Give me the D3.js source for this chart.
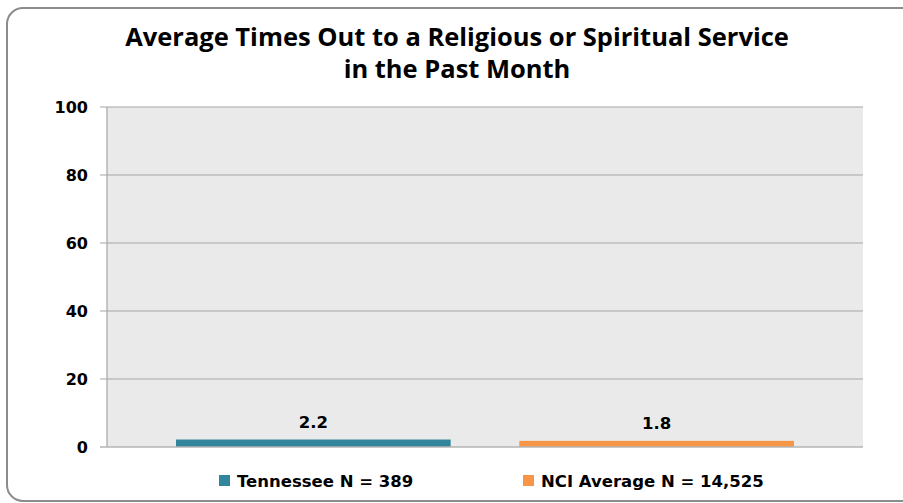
<!DOCTYPE html>
<html><head><meta charset="utf-8">
<script src="https://cdn.jsdelivr.net/npm/d3@7"></script>
<style>html,body{margin:0;padding:0;background:#fff;}svg{display:block;}</style>
</head><body>
<svg id="c" width="903" height="503"></svg>
<script>
const titleLines = ["Average Times Out to a Religious or Spiritual Service", "in the Past Month"];
const seriesNames = ["Tennessee N = 389", "NCI Average N = 14,525"];
const seriesValues = [2.2, 1.8];
const seriesLabels = ["2.2", "1.8"];
const seriesColors = ["#31859c", "#f79646"];
const yTicks = [0, 20, 40, 60, 80, 100];

const svg = d3.select("#c");
const m = {l: 107, r: 863, t: 107, b: 447};

svg.append("rect").attr("x", 7).attr("y", 8).attr("width", 910).attr("height", 493)
  .attr("rx", 16).attr("fill", "#fff").attr("stroke", "#8c8c8c").attr("stroke-width", 2);

const t = svg.append("text").attr("text-anchor", "middle").attr("font-family", "'Open Sans', Lato, sans-serif")
  .attr("font-weight", "bold").attr("font-size", 22).attr("fill", "#000");
const tsp = titleLines.map((s, i) => t.append("tspan").attr("x", 457).attr("y", 46 + i * 32).text(s));
const w0 = tsp[0].node().getComputedTextLength();
t.attr("font-size", 22 * 664 / w0);

const y = d3.scaleLinear().domain([0, 100]).range([m.b, m.t]);
const x = d3.scaleBand().domain(seriesNames).range([176, 794]).paddingInner(0.2);

svg.append("rect").attr("x", m.l).attr("y", m.t).attr("width", m.r - m.l).attr("height", m.b - m.t).attr("fill", "#eaeaea");

const g = svg.append("g");
g.selectAll("line.grid").data(yTicks.filter(d => d > 0)).join("line")
  .attr("x1", 100).attr("x2", m.r).attr("y1", d => y(d)).attr("y2", d => y(d))
  .attr("stroke", "#a6a6a6").attr("stroke-width", 1.2);
g.append("line").attr("x1", m.l).attr("x2", m.l).attr("y1", m.t).attr("y2", m.b).attr("stroke", "#a6a6a6").attr("stroke-width", 1.2);

svg.selectAll("rect.bar").data(seriesValues).join("rect").attr("class", "bar")
  .attr("x", (d, i) => x(seriesNames[i])).attr("width", x.bandwidth())
  .attr("y", d => y(d)).attr("height", d => y(0) - y(d))
  .attr("fill", (d, i) => seriesColors[i]);

svg.append("line").attr("x1", 100).attr("x2", m.r).attr("y1", y(0)).attr("y2", y(0)).attr("stroke", "#b4b4b4").attr("stroke-width", 1.5);

svg.selectAll("text.tick").data(yTicks).join("text").attr("class", "tick")
  .attr("x", 88).attr("y", d => y(d) + 6).attr("text-anchor", "end")
  .attr("font-family", "'DejaVu Sans', sans-serif").attr("font-weight", "bold").attr("font-size", 16).attr("fill", "#000")
  .text(d => d);

svg.selectAll("text.lbl").data(seriesValues).join("text").attr("class", "lbl")
  .attr("x", (d, i) => x(seriesNames[i]) + x.bandwidth() / 2).attr("y", d => y(d) - 12)
  .attr("text-anchor", "middle").attr("font-family", "'DejaVu Sans', sans-serif").attr("font-weight", "bold")
  .attr("font-size", 16.5).attr("fill", "#000").text((d, i) => seriesLabels[i]);

const legX = [219, 523];
seriesNames.forEach((n, i) => {
  svg.append("rect").attr("x", legX[i]).attr("y", 475).attr("width", 11).attr("height", 11).attr("fill", seriesColors[i]);
  svg.append("text").attr("x", legX[i] + 18).attr("y", 487).attr("font-family", "'DejaVu Sans', sans-serif")
    .attr("font-weight", "bold").attr("font-size", 16.5).attr("fill", "#000").text(n);
});
</script>
</body></html>
